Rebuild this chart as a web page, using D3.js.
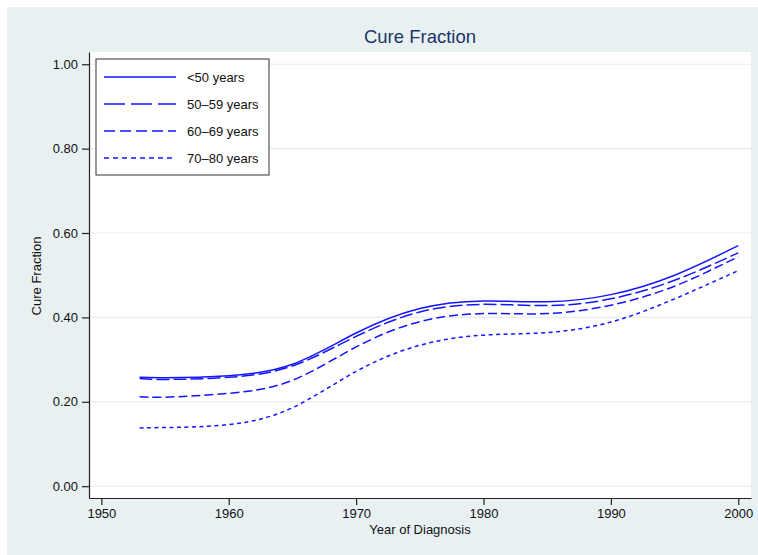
<!DOCTYPE html>
<html>
<head>
<meta charset="utf-8">
<script src="https://cdn.jsdelivr.net/npm/d3@7"></script>
<style>
  body { margin: 0; background: #fff; }
  svg { font-family: "Liberation Sans", Arial, sans-serif; }
</style>
</head>
<body>
<svg id="chart"></svg>
<script>
// values
const years = [1953, 1955, 1960, 1965, 1970, 1975, 1980, 1985, 1990, 1995, 2000];
const under50 = [0.258, 0.257, 0.262, 0.289, 0.363, 0.421, 0.439, 0.437, 0.454, 0.500, 0.570];
const age5059 = [0.255, 0.253, 0.258, 0.285, 0.355, 0.413, 0.431, 0.428, 0.444, 0.488, 0.553];
const age6069 = [0.212, 0.211, 0.220, 0.251, 0.330, 0.390, 0.409, 0.409, 0.429, 0.474, 0.544];
const age7080 = [0.138, 0.139, 0.146, 0.186, 0.272, 0.334, 0.358, 0.364, 0.389, 0.444, 0.511];
const seriesNames = ["<50 years", "50\u201359 years", "60\u201369 years", "70\u201380 years"];
const xTicks = [1950, 1960, 1970, 1980, 1990, 2000];
const yTicks = [0, 0.2, 0.4, 0.6, 0.8, 1.0];

const series = [under50, age5059, age6069, age7080].map((vals, i) => ({
  name: seriesNames[i],
  points: years.map((y, j) => ({ year: y, value: vals[j] }))
}));

const W = 758, H = 555;
const plot = { left: 89, right: 751, top: 52, bottom: 498 };
const dashPlot = [null, "13,4", "9,4", "4,3.5"];
const dashLegend = [null, "21,6", "11,5", "5,4"];
const lineColor = "#1515ff";

const svg = d3.select("#chart").attr("width", W).attr("height", H);

// outer background
svg.append("rect").attr("x", 7).attr("y", 7).attr("width", W - 7).attr("height", H - 7)
  .attr("fill", "#e9f0f2");
svg.append("rect").attr("x", plot.left).attr("y", plot.top)
  .attr("width", plot.right - plot.left).attr("height", plot.bottom - plot.top)
  .attr("fill", "#fff");

const x = d3.scaleLinear().domain([1949.03, 2001]).range([plot.left, plot.right]);
const y = d3.scaleLinear().domain([-0.028, 1.029]).range([plot.bottom, plot.top]);

// gridlines
svg.append("g").selectAll("line").data(yTicks).join("line")
  .attr("x1", plot.left + 1).attr("x2", plot.right)
  .attr("y1", d => y(d)).attr("y2", d => y(d))
  .attr("stroke", "#e6edf0").attr("stroke-width", 1.2);

const xAxis = d3.axisBottom(x).tickValues(xTicks).tickFormat(d3.format("d"))
  .tickSizeInner(7).tickSizeOuter(0).tickPadding(4);
const yAxis = d3.axisLeft(y).tickValues(yTicks).tickFormat(d3.format(".2f"))
  .tickSizeInner(7).tickSizeOuter(0).tickPadding(4);

const xAxisG = svg.append("g").attr("transform", `translate(0,${plot.bottom})`).call(xAxis);
const yAxisG = svg.append("g").attr("transform", `translate(${plot.left},0)`).call(yAxis);
[xAxisG, yAxisG].forEach(g => {
  g.selectAll("path, line").attr("stroke", "#222").attr("stroke-width", 1.2);
  g.selectAll("text").attr("fill", "#111").style("font-size", "13px");
});

// curves
const line = d3.line().x(d => x(d.year)).y(d => y(d.value)).curve(d3.curveNatural);
svg.append("g").selectAll("path").data(series).join("path")
  .attr("d", d => line(d.points))
  .attr("fill", "none")
  .attr("stroke", lineColor)
  .attr("stroke-width", 1.5)
  .attr("stroke-dasharray", (d, i) => dashPlot[i]);

// titles
svg.append("text").attr("x", (plot.left + plot.right) / 2).attr("y", 43)
  .attr("text-anchor", "middle").attr("fill", "#1c3566").style("font-size", "18.5px")
  .text("Cure Fraction");
svg.append("text").attr("x", (plot.left + plot.right) / 2).attr("y", 534)
  .attr("text-anchor", "middle").attr("fill", "#111").style("font-size", "13px")
  .text("Year of Diagnosis");
svg.append("text").attr("transform", `translate(41,${276}) rotate(-90)`)
  .attr("text-anchor", "middle").attr("fill", "#111").style("font-size", "13px")
  .text("Cure Fraction");

// legend
const legend = svg.append("g");
legend.append("rect").attr("x", 96).attr("y", 59).attr("width", 173).attr("height", 116)
  .attr("fill", "#fff").attr("stroke", "#333").attr("stroke-width", 1);
const rows = legend.selectAll("g.row").data(series).join("g")
  .attr("class", "row")
  .attr("transform", (d, i) => `translate(0,${77 + i * 27})`);
rows.append("line").attr("x1", 104).attr("x2", 176).attr("y1", 0).attr("y2", 0)
  .attr("stroke", lineColor).attr("stroke-width", 1.5)
  .attr("stroke-dasharray", (d, i) => dashLegend[i]);
rows.append("text").attr("x", 187).attr("y", 5)
  .attr("fill", "#111").style("font-size", "13px")
  .text(d => d.name);
</script>
</body>
</html>
